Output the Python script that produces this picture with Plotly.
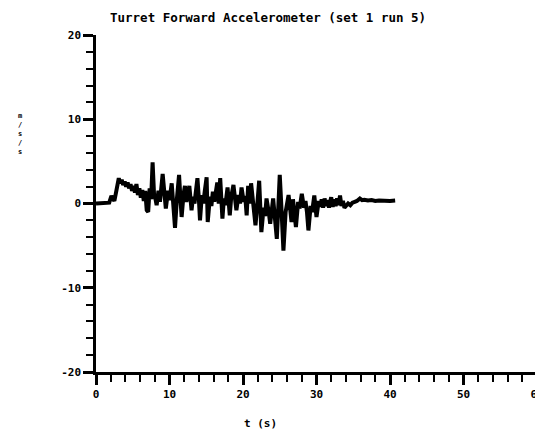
import plotly.graph_objects as go

# time (s) and acceleration (m/s/s)
t = [0, 1.5, 1.8, 2.1, 2.3, 2.5, 2.7, 2.9, 3.1, 3.3, 3.5, 3.7, 3.9, 4.1, 4.3, 4.5, 4.7, 4.9,
     5.1, 5.3, 5.5, 5.7, 5.9, 6.1, 6.3, 6.5, 6.7, 6.9, 7.1, 7.3, 7.5, 7.7, 7.9, 8.1, 8.25,
     8.5, 8.7, 9.07, 9.3, 9.5, 9.8, 10.0, 10.3, 10.5, 10.75, 11.0, 11.3, 11.5, 11.65, 11.9,
     12.1, 12.3, 12.5, 12.7, 13.0, 13.2, 13.4, 13.8, 14.0, 14.15, 14.4, 14.6, 14.8, 15.05,
     15.2, 15.5, 15.7, 15.9, 16.1, 16.5, 16.7, 16.9, 17.2, 17.4, 17.6, 17.9, 18.2, 18.4,
     18.7, 18.9, 19.1, 19.4, 19.6, 19.8, 20.1, 20.3, 20.5, 20.7, 20.9, 21.1, 21.4, 21.7,
     22.0, 22.2, 22.5, 22.8, 23.0, 23.2, 23.5, 23.7, 24.1, 24.3, 24.6, 24.8, 25.0, 25.2,
     25.5, 25.8, 26.0, 26.2, 26.4, 26.6, 26.8, 27.0, 27.2, 27.5, 27.7, 28.0, 28.3, 28.5,
     28.7, 28.9, 29.2, 29.4, 29.7, 30.0, 30.3, 30.5, 30.7, 30.9, 31.1, 31.3, 31.5, 31.7,
     32.0, 32.2, 32.4, 32.6, 32.8, 33.0, 33.2, 33.4, 33.6, 33.8, 34.0, 34.3, 34.6, 34.9,
     35.2, 35.5, 35.9, 36.2, 36.5, 37.0, 37.5, 38.0, 38.5, 39.0, 39.5, 40.0, 40.7]
accel = [0, 0, 0.1, 0.9, 0.6, 0.3, 1.2, 2.4, 3.0, 2.4, 2.8, 2.2, 2.6, 2.0, 2.5, 1.8, 2.3, 1.5,
         2.1, 1.3, 2.3, 1.0, 1.8, 0.7, 1.6, 0.3, 1.5, -0.8, -1.0, 1.8, 0.5, 4.9, 1.0, 0.5, -0.2,
         1.5, 0.2, 3.5, 0.8, -0.6, 1.5, 0.4, 2.4, 0.3, -2.9, 0.5, 3.4, 0.4, -1.6, 1.0,
         2.1, 0.2, 1.2, 2.1, -0.8, 0.8, 0.0, 3.0, 0.5, -2.0, 1.0, 0.0, 1.5, 3.1,
         -2.2, 0.8, -0.3, 1.4, 0.2, 2.5, 0.0, 3.0, -1.8, 0.6, -0.2, 1.9, -1.4, 0.8,
         2.2, 0.2, -0.8, 1.0, 0.0, 1.9, 0.2, 0.9, -1.4, 2.1, 0.0, 2.4, 0.2, -2.6,
         0.5, 2.7, -3.4, -0.5, -1.5, 0.6, -1.0, -2.4, 0.6, -1.0, -4.2, -0.5, 3.4, 0.0,
         -5.6, -1.0, -0.2, 1.0, -0.5, -2.2, 0.5, -0.8, -2.8, 0.2, -0.6, 1.15, -0.5, 0.3,
         -1.0, -3.2, -0.3, -1.0, 0.95, -1.6, 0.3, -0.4, 0.5, -0.5, 0.6, -0.3, 0.4, -0.5,
         0.75, -0.4, 0.5, -0.3, 0.6, -0.2, 0.95, -0.3, 0.3, -0.5, -0.3, 0.0, -0.2, 0.1,
         0.2, 0.3, 0.6, 0.4, 0.45, 0.35, 0.4, 0.3, 0.35, 0.3, 0.35, 0.3, 0.35]

x_ticks = [0, 10, 20, 30, 40, 50, 60]
y_ticks = [-20, -10, 0, 10, 20]

font_main = dict(family="DejaVu Sans Mono", size=11, color="black", weight="bold")

# the page body has an 8px margin, so the figure is laid out 8px smaller
W, H = 535, 425
L, T, R, B = 88, 27, 6, 61
PW, PH = W - L - R, H - T - B


def px(xp):  # page x -> paper x
    return (xp - 8 - L) / PW


def py(yp):  # page y -> paper y
    return (H - B - (yp - 8)) / PH


fig = go.Figure()
fig.add_trace(go.Scatter(x=t, y=accel, mode="lines",
                         line=dict(color="black", width=4), showlegend=False,
                         cliponaxis=False))

fig.update_layout(
    width=W, height=H,
    margin=dict(l=L, r=R, t=T, b=B, autoexpand=False),
    paper_bgcolor="white", plot_bgcolor="white",
    font=font_main,
)
fig.update_xaxes(range=[0, 60], tickvals=x_ticks, ticktext=[str(v) for v in x_ticks],
                 automargin=False, ticklabeloverflow="allow",
                 showgrid=False, zeroline=False, showline=True, linecolor="black", linewidth=2.5,
                 ticks="outside", ticklen=10, tickwidth=2.5, tickcolor="black",
                 minor=dict(dtick=2, ticks="outside", ticklen=7, tickwidth=2, tickcolor="black"),
                 tickfont=font_main)
fig.update_yaxes(range=[-20, 20], tickvals=y_ticks, ticktext=[str(v) for v in y_ticks],
                 automargin=False, ticklabeloverflow="allow",
                 showgrid=False, zeroline=False, showline=True, linecolor="black", linewidth=2.5,
                 ticks="outside", ticklen=10, tickwidth=2.5, tickcolor="black",
                 minor=dict(dtick=2, ticks="outside", ticklen=7, tickwidth=2, tickcolor="black"),
                 tickfont=font_main)
# title
fig.add_annotation(text="Turret Forward Accelerometer (set 1 run 5)", xref="paper", yref="paper",
                   x=px(268), y=py(18), xanchor="center", yanchor="middle",
                   showarrow=False,
                   font=dict(family="DejaVu Sans Mono", size=12.5, color="black", weight="bold"))
# x axis title
fig.add_annotation(text="t (s)", xref="paper", yref="paper",
                   x=px(260), y=py(423), xanchor="center", yanchor="middle",
                   showarrow=False, font=font_main)
# y axis title (stacked)
fig.add_annotation(text="m<br>/<br>s<br>/<br>s", xref="paper", yref="paper",
                   x=px(20), y=py(134), xanchor="center", yanchor="middle",
                   showarrow=False, font=dict(family="DejaVu Sans Mono", size=7, color="black",
                                              weight="bold"))
fig.write_html("out.html")
